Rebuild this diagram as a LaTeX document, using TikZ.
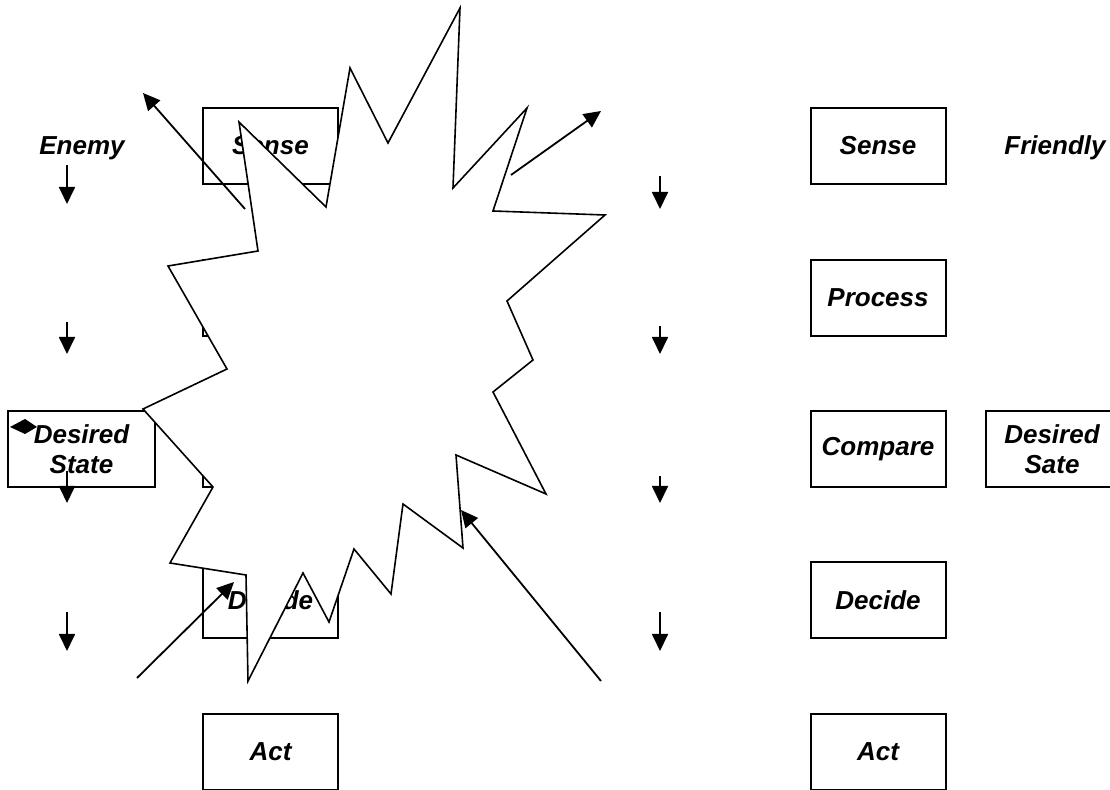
\documentclass[tikz,border=0pt]{standalone}
\usepackage{fontspec}
\setmainfont{Liberation Sans}
\usetikzlibrary{arrows.meta}
\tikzset{
  box/.style={draw, line width=1pt, minimum width=67.5pt, minimum height=38pt, inner sep=0pt, align=center},
  lbl/.style={inner sep=0pt, align=center},
  arr/.style={line width=0.9pt, -{Triangle[length=8.5pt,width=8pt]}},
  burst/.style={draw, fill=white, line width=0.8pt, line join=miter},
  every node/.style={font=\fontsize{13pt}{15pt}\selectfont\bfseries\itshape}
}
\begin{document}
\begin{tikzpicture}[x=0.5pt,y=-0.5pt]
\clip (0,0) rectangle (1110,790);
% left column boxes
\node[box] (lsense) at (270.5,146) {Sense};
\node[box] (lproc) at (270.5,298) {Process};
\node[box] (lcomp) at (270.5,449.5) {Compare};
\node[box] (ldec) at (270.5,600.5) {Decide};
\node[box] (lact) at (270.5,752) {Act};
\node[box, minimum width=73.5pt] (ldes) at (81.5,449.5) {Desired\\State};
\node[lbl] (enemy) at (82,148) {Enemy};
% left vertical arrows
\coordinate (la1s) at (67,165); \coordinate (la1e) at (67,204);
\coordinate (la2s) at (67,322); \coordinate (la2e) at (67,354);
\coordinate (la3s) at (67,471); \coordinate (la3e) at (67,503);
\coordinate (la4s) at (67,612); \coordinate (la4e) at (67,651);
\draw[arr] (la1s) -- (la1e);
\draw[arr] (la2s) -- (la2e);
\draw[arr] (la3s) -- (la3e);
\draw[arr] (la4s) -- (la4e);
\fill (10,427) -- (25,419) -- (37,427) -- (25,434) -- cycle;
% starburst
\draw[burst] (460,8) -- (453,188) -- (527,108) -- (493,211) -- (605,215)
  -- (507,301) -- (533,360) -- (493,392) -- (546,494) -- (456,455)
  -- (463,548) -- (403,504) -- (391,594) -- (354,549) -- (329,622)
  -- (303,573) -- (248,681) -- (246,575) -- (170,563) -- (213,487)
  -- (143,409) -- (227,369) -- (168,266) -- (258,251) -- (239,122)
  -- (326,207) -- (350,68) -- (388,143) -- cycle;
% diagonal arrows
\coordinate (d1s) at (245,209); \coordinate (d1e) at (143,93);
\coordinate (d2s) at (511,175); \coordinate (d2e) at (601,111);
\coordinate (d3s) at (137,678); \coordinate (d3e) at (234,582);
\coordinate (d4s) at (601,681); \coordinate (d4e) at (461,510);
\draw[arr] (d1s) -- (d1e);
\draw[arr] (d2s) -- (d2e);
\draw[arr] (d3s) -- (d3e);
\draw[arr] (d4s) -- (d4e);
% right column
\node[box] (rsense) at (878,146) {Sense};
\node[box] (rproc) at (878,298) {Process};
\node[box] (rcomp) at (878,449.5) {Compare};
\node[box] (rdec) at (878,600.5) {Decide};
\node[box] (ract) at (878,752) {Act};
\node[box, minimum width=70pt] (rdes) at (1056,449.5) {};
\node[lbl] (rdestxt) at (1052,449.5) {Desired\\Sate};
\node[lbl] (friendly) at (1055,148) {Friendly};
\coordinate (ra1s) at (660,176); \coordinate (ra1e) at (660,209);
\coordinate (ra2s) at (660,326); \coordinate (ra2e) at (660,354);
\coordinate (ra3s) at (660,476); \coordinate (ra3e) at (660,503);
\coordinate (ra4s) at (660,612); \coordinate (ra4e) at (660,651);
\draw[arr] (ra1s) -- (ra1e);
\draw[arr] (ra2s) -- (ra2e);
\draw[arr] (ra3s) -- (ra3e);
\draw[arr] (ra4s) -- (ra4e);
\end{tikzpicture}
\end{document}
